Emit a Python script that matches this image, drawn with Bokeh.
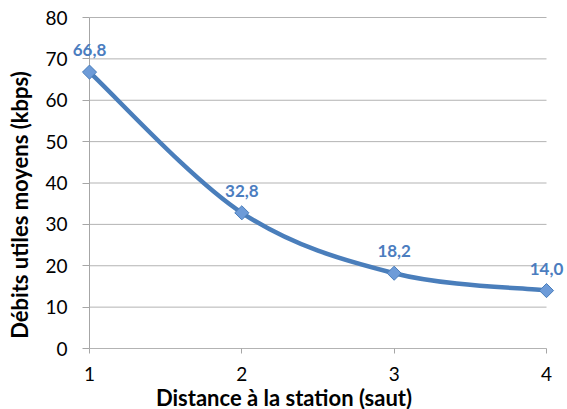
import math
from bokeh.plotting import figure
from bokeh.models import ColumnDataSource, Label, FixedTicker
from bokeh.embed import file_html
from bokeh.resources import INLINE

# Data
distance = [1, 2, 3, 4]
debit = [66.8, 32.8, 18.2, 14.0]
labels = ["66,8", "32,8", "18,2", "14,0"]
y_ticks = [0, 10, 20, 30, 40, 50, 60, 70, 80]
x_ticks = [1, 2, 3, 4]

FONT = "Lato"
BLUE = "#4A7EBB"
GRID = "#B3B3B3"
AXIS = "#A6A6A6"

# frame covers the whole canvas; data x=1 at 89px, x=4 at 546px,
# y=0 at 348px, y=80 at 17px (from top)
W, H = 567, 409
PX_X = (546 - 89) / 3
PX_Y = (348 - 17) / 80
x_start = 1 - 89 / PX_X
x_end = 4 + (W - 546) / PX_X
y_start = 0 - (H - 348) / PX_Y
y_end = 80 + 17 / PX_Y

p = figure(width=W, height=H, output_backend="svg", toolbar_location=None,
           x_range=(x_start, x_end), y_range=(y_start, y_end),
           min_border_left=0, min_border_right=0, min_border_top=0,
           min_border_bottom=0)
p.outline_line_color = None
p.background_fill_color = "white"
p.border_fill_color = "white"

# Horizontal gridlines spanning the category extent
p.segment(x0=min(distance), x1=max(distance), y0=y_ticks, y1=y_ticks,
          line_color=GRID, line_width=1)
# Vertical axis line
p.segment(x0=min(distance), x1=min(distance), y0=min(y_ticks), y1=max(y_ticks),
          line_color=AXIS, line_width=1)

# Smoothed line (Excel-like Bezier through the data points)
n = len(distance)
x0s, y0s, x1s, y1s, cx0, cy0, cx1, cy1 = [], [], [], [], [], [], [], []
for i in range(n - 1):
    xm = distance[max(i - 1, 0)]; ym = debit[max(i - 1, 0)]
    xa = distance[i]; ya = debit[i]
    xb = distance[i + 1]; yb = debit[i + 1]
    xp = distance[min(i + 2, n - 1)]; yp = debit[min(i + 2, n - 1)]
    x0s.append(xa); y0s.append(ya); x1s.append(xb); y1s.append(yb)
    cx0.append(xa + (xb - xm) / 6); cy0.append(ya + (yb - ym) / 6)
    cx1.append(xb - (xp - xa) / 6); cy1.append(yb - (yp - ya) / 6)
bsrc = ColumnDataSource(dict(x0=x0s, y0=y0s, x1=x1s, y1=y1s,
                             cx0=cx0, cy0=cy0, cx1=cx1, cy1=cy1))
p.bezier(x0="x0", y0="y0", x1="x1", y1="y1", cx0="cx0", cy0="cy0",
         cx1="cx1", cy1="cy1", source=bsrc, line_color=BLUE, line_width=4.5,
         line_cap="round")

src = ColumnDataSource(dict(x=distance, y=debit))
p.scatter("x", "y", source=src, marker="square", size=10, angle=math.pi / 4,
          fill_color="#6D9BD8", line_color="#4A7EBB", line_width=1)

for xv, yv, txt in zip(distance, debit, labels):
    p.add_layout(Label(x=xv, y=yv, text=txt, y_offset=22,
                       text_align="center", text_baseline="middle",
                       text_font=FONT, text_font_style="bold",
                       text_font_size="17px", text_color="#4B7DBF"))

# Axes
p.xaxis.ticker = FixedTicker(ticks=x_ticks)
p.yaxis.ticker = FixedTicker(ticks=y_ticks)
for ax in (p.xaxis[0], p.yaxis[0]):
    ax.axis_line_color = None
    ax.major_tick_line_color = AXIS
    ax.minor_tick_line_color = None
    ax.major_tick_in = 0
    ax.major_tick_out = 5
    ax.major_label_text_font = FONT
    ax.major_label_text_font_size = "19px"
    ax.major_label_text_color = "#000000"
    ax.axis_label_text_font = FONT
    ax.axis_label_text_font_style = "bold"
    ax.axis_label_text_font_size = "22px"
    ax.axis_label_text_color = "#000000"
p.yaxis.fixed_location = min(distance)
p.xaxis.fixed_location = min(y_ticks)
p.yaxis.major_tick_out = 7
p.yaxis.major_label_standoff = 15
p.yaxis.axis_label_standoff = 9
p.xaxis.major_label_standoff = 13
p.xaxis.axis_label_standoff = 0
p.xaxis.axis_label = "Distance à la station (saut)"
p.yaxis.axis_label = "Débits utiles moyens (kbps)"

p.xgrid.grid_line_color = None
p.ygrid.grid_line_color = None

open("out.html", "w").write(file_html(p, INLINE))
